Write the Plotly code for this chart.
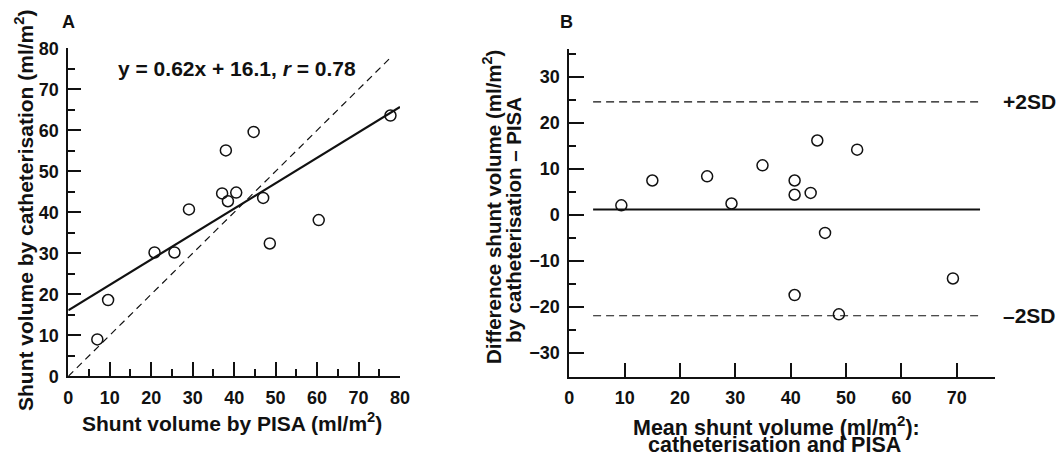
import plotly.graph_objects as go

# ---------------- data ----------------
# Panel A: PISA vs catheterisation
pisa = [7.0, 9.6, 20.8, 25.6, 29.1, 37.1, 38.5, 38.0, 40.5, 44.7, 47.0, 48.6, 60.4, 77.7]
cath = [9.0, 18.6, 30.2, 30.2, 40.7, 44.6, 42.7, 55.1, 44.8, 59.6, 43.5, 32.4, 38.1, 63.6]
fit_slope = 0.62
fit_intercept = 16.1
fit_x = [0, 80]
identity_x = [0, 78]

# Panel B: Bland-Altman
mean_vol = [9.4, 15.0, 24.9, 29.3, 34.9, 40.7, 40.7, 43.6, 44.8, 52.0, 46.2, 40.7, 48.7, 69.3]
diff_vol = [2.1, 7.5, 8.4, 2.5, 10.8, 7.5, 4.4, 4.8, 16.2, 14.2, -3.9, -17.4, -21.6, -13.8]
mean_diff = 1.2
plus_2sd = 24.6
minus_2sd = -21.9
limit_x = [4.3, 74.2]

A_xticks = [0, 10, 20, 30, 40, 50, 60, 70, 80]
A_yticks = [0, 10, 20, 30, 40, 50, 60, 70, 80]
B_xticks = [0, 10, 20, 30, 40, 50, 60, 70]
B_yticks = [-30, -20, -10, 0, 10, 20, 30]

W, H = 1063, 454
FONT = "Liberation Sans, Arial, Helvetica, sans-serif"
BLACK = "#111111"

def px_x(p):
    return p / W

def px_y(p):
    return 1 - p / H

fig = go.Figure()

marker = dict(symbol="circle-open", size=11, color=BLACK, line=dict(width=1.5, color=BLACK))

# Panel A
fig.add_trace(go.Scatter(x=identity_x, y=identity_x, mode="lines",
                         line=dict(color=BLACK, width=1.2, dash="7px,5px"),
                         xaxis="x", yaxis="y", showlegend=False, hoverinfo="skip"))
fig.add_trace(go.Scatter(x=fit_x, y=[fit_slope * v + fit_intercept for v in fit_x], mode="lines",
                         line=dict(color=BLACK, width=2.2),
                         xaxis="x", yaxis="y", showlegend=False, hoverinfo="skip"))
fig.add_trace(go.Scatter(x=pisa, y=cath, mode="markers", marker=marker,
                         xaxis="x", yaxis="y", showlegend=False, cliponaxis=False))

# Panel B
for yv in (plus_2sd, minus_2sd):
    fig.add_trace(go.Scatter(x=limit_x, y=[yv, yv], mode="lines",
                             line=dict(color=BLACK, width=1.2, dash="8px,5px"),
                             xaxis="x2", yaxis="y2", showlegend=False, hoverinfo="skip"))
fig.add_trace(go.Scatter(x=limit_x, y=[mean_diff, mean_diff], mode="lines",
                         line=dict(color=BLACK, width=2.2),
                         xaxis="x2", yaxis="y2", showlegend=False, hoverinfo="skip"))
fig.add_trace(go.Scatter(x=mean_vol, y=diff_vol, mode="markers", marker=marker,
                         xaxis="x2", yaxis="y2", showlegend=False, cliponaxis=False))

tickfont = dict(family=FONT, size=18, color=BLACK, weight="bold")
common = dict(showgrid=False, zeroline=False, showline=True, linecolor=BLACK, linewidth=1.8,
              ticks="inside", tickcolor=BLACK, tickwidth=1.6, tickfont=tickfont, mirror=False,
              automargin=False, fixedrange=True)

fig.update_layout(
    width=W, height=H,
    margin=dict(l=0, r=0, t=0, b=0, pad=0),
    paper_bgcolor="white", plot_bgcolor="white",
    font=dict(family=FONT, color=BLACK),
    xaxis=dict(domain=[px_x(68.3), px_x(400)], range=[0, 80], tickvals=A_xticks, ticklen=14,
               minor=dict(dtick=5, tick0=0, ticklen=7, ticks="inside", tickcolor=BLACK, tickwidth=1.6),
               anchor="y", ticklabelstandoff=4, **common),
    yaxis=dict(domain=[px_y(376.3), px_y(48.3)], range=[0, 80], tickvals=A_yticks, ticklen=13,
               minor=dict(dtick=5, tick0=0, ticklen=7, ticks="inside", tickcolor=BLACK, tickwidth=1.6),
               anchor="x", ticklabelstandoff=4, **common),
    xaxis2=dict(domain=[px_x(569.3), px_x(995)], range=[0, 76.9], tickvals=B_xticks, ticklen=14,
                anchor="y2", ticklabelstandoff=4, **common),
    yaxis2=dict(domain=[px_y(376.9), px_y(48.5)], range=[-35.2, 36.2], tickvals=B_yticks, ticklen=15,
                minor=dict(dtick=5, tick0=0, ticklen=7, ticks="inside", tickcolor=BLACK, tickwidth=1.6),
                tickformat="d", anchor="x2", ticklabelstandoff=4, **common),
)

def ann(text, x, y, size, angle=0, xanchor="center", yanchor="middle", xref="paper", yref="paper"):
    fig.add_annotation(text=text, x=x, y=y, xref=xref, yref=yref, showarrow=False,
                       textangle=angle, xanchor=xanchor, yanchor=yanchor,
                       font=dict(family=FONT, size=size, color=BLACK, weight="bold"))

# panel letters
ann("A", px_x(68), px_y(22), 18)
ann("B", px_x(566), px_y(22), 18)

# Panel A titles
ann("Shunt volume by PISA (ml/m<sup>2</sup>)", px_x(232), px_y(422), 21)
ann("Shunt volume by catheterisation (ml/m<sup>2</sup>)", px_x(24), px_y(211), 21, angle=-90)
ann("y = 0.62x + 16.1, <i>r</i> = 0.78", px_x(237), px_y(69), 21)

# Panel B titles
ann("Mean shunt volume (ml/m<sup>2</sup>):", px_x(776), px_y(426), 21.5)
ann("catheterisation and PISA", px_x(774), px_y(445), 21.5)
ann("Difference shunt volume (ml/m<sup>2</sup>)", px_x(492), px_y(207), 20.5, angle=-90)
ann("by catheterisation \u2013 PISA", px_x(513), px_y(220), 20.5, angle=-90)

# limit labels
ann("+2SD", px_x(1001), plus_2sd, 21, xanchor="left", yref="y2")
ann("\u20132SD", px_x(1001), minus_2sd, 21, xanchor="left", yref="y2")

fig.write_html("out.html", config={"displayModeBar": False},
               post_script="document.body.style.margin='0';document.body.style.overflow='hidden';")
